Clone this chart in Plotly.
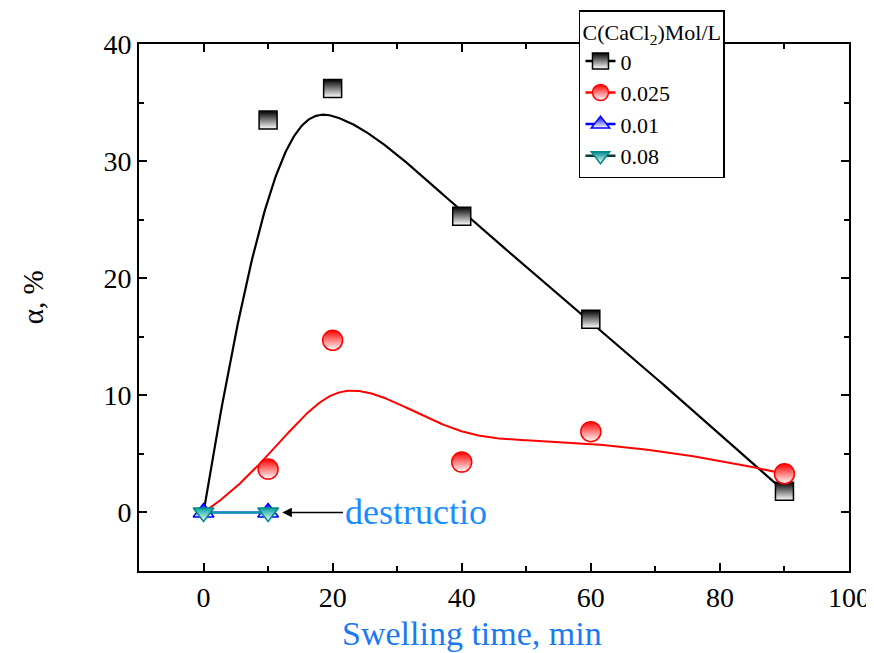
import numpy as np
import plotly.graph_objects as go

# ---- data ----
time_min = [0, 10, 20, 40, 60, 90]
alpha_c0 = [0.0, 33.5, 36.2, 25.3, 16.5, 1.8]
alpha_c025 = [0.0, 3.7, 14.7, 4.3, 6.9, 3.3]
time_short = [0, 10]
alpha_c001 = [0.0, 0.0]
alpha_c008 = [0.0, 0.0]
series_names = ["0", "0.025", "0.01", "0.08"]
x_ticks = [0, 20, 40, 60, 80, 100]
y_ticks = [0, 10, 20, 30, 40]


def bspline(xs, ys, n=300, k=3):
    """Clamped uniform B-spline using data points as control points (Origin style)."""
    P = np.column_stack([xs, ys]).astype(float)
    m = len(P)
    knots = np.concatenate([[0.0] * k, np.linspace(0, 1, m - k + 1), [1.0] * k])
    t = np.linspace(0, 1, n)
    t[-1] = 1 - 1e-12

    def N(i, p, tt):
        if p == 0:
            return np.where((knots[i] <= tt) & (tt < knots[i + 1]), 1.0, 0.0)
        a = 0.0
        d1 = knots[i + p] - knots[i]
        if d1 > 0:
            a = (tt - knots[i]) / d1 * N(i, p - 1, tt)
        b = 0.0
        d2 = knots[i + p + 1] - knots[i + 1]
        if d2 > 0:
            b = (knots[i + p + 1] - tt) / d2 * N(i + 1, p - 1, tt)
        return a + b

    C = np.zeros((n, 2))
    for i in range(m):
        C += N(i, k, t)[:, None] * P[i]
    return C[:, 0], C[:, 1]


FONT = "Liberation Serif"
fig = go.Figure()

c0x, c0y = bspline(time_min, alpha_c0)
c1x, c1y = bspline(time_min, alpha_c025)

fig.add_trace(go.Scatter(x=c0x, y=c0y, mode="lines", line=dict(color="black", width=2.2),
                         showlegend=False, hoverinfo="skip"))
fig.add_trace(go.Scatter(x=c1x, y=c1y, mode="lines", line=dict(color="#FF0000", width=2),
                         showlegend=False, hoverinfo="skip"))

# markers for fitted series (the point at the origin is hidden under the short series)
fig.add_trace(go.Scatter(x=time_min[1:], y=alpha_c0[1:], mode="markers", showlegend=False,
                         marker=dict(symbol="square", size=18, color="black",
                                     gradient=dict(type="vertical", color="white"),
                                     line=dict(color="black", width=1.5))))
fig.add_trace(go.Scatter(x=time_min[1:], y=alpha_c025[1:], mode="markers", showlegend=False,
                         marker=dict(symbol="circle", size=20, color="#FF0000",
                                     gradient=dict(type="vertical", color="white"),
                                     line=dict(color="#FF0000", width=1.5))))

# short series with straight lines
fig.add_trace(go.Scatter(x=time_short, y=alpha_c001, mode="lines+markers", name=series_names[2],
                         showlegend=False,
                         line=dict(color="#0000FF", width=2),
                         marker=dict(symbol="triangle-up", size=18, color="#0000FF",
                                     gradient=dict(type="vertical", color="white"),
                                     line=dict(color="#0000FF", width=1.5))))
fig.add_trace(go.Scatter(x=time_short, y=alpha_c008, mode="lines+markers", name=series_names[3],
                         showlegend=False,
                         line=dict(color="#00A0A0", width=2),
                         marker=dict(symbol="triangle-down", size=18, color="#00A0A0",
                                     gradient=dict(type="vertical", color="white"),
                                     line=dict(color="#008B8B", width=1.5))))

# legend entries
legend_specs = [
    (series_names[0], "black", "black", "square", 17),
    (series_names[1], "#FF0000", "#FF0000", "circle", 18),
    (series_names[2], "#0000FF", "#0000FF", "triangle-up", 17),
    (series_names[3], "#0A3A3A", "#008B8B", "triangle-down", 17),
]
for nm, lcol, mcol, sym, sz in legend_specs:
    fig.add_trace(go.Scatter(x=[None], y=[None], mode="lines+markers", name=nm,
                             line=dict(color=lcol, width=2.5),
                             marker=dict(symbol=sym, size=sz, color=mcol,
                                         gradient=dict(type="vertical", color="white"),
                                         line=dict(color=mcol, width=1.5))))

axis_common = dict(showline=True, linecolor="black", linewidth=2, mirror="ticks",
                   ticks="inside", ticklen=8, tickwidth=2, tickcolor="black",
                   showgrid=False, zeroline=False, automargin=False,
                   tickfont=dict(family=FONT, size=28, color="black"))

fig.update_xaxes(range=[-10, 100], tickvals=x_ticks, ticktext=[str(v) for v in x_ticks],
                 minor=dict(ticks="inside", ticklen=5, tickwidth=2, tickcolor="black", dtick=10, tick0=0),
                 **axis_common)
fig.update_yaxes(range=[-5, 40], tickvals=y_ticks, ticktext=[str(v) for v in y_ticks],
                 minor=dict(ticks="inside", ticklen=5, tickwidth=2, tickcolor="black", dtick=5, tick0=0),
                 **axis_common)

fig.add_annotation(x=12.2, y=0, ax=21.6, ay=0, xref="x", yref="y", axref="x", ayref="y",
                   text="destructio", xanchor="left", yanchor="middle",
                   showarrow=True, arrowhead=2, arrowsize=1.2, arrowwidth=1.6,
                   arrowcolor="black",
                   font=dict(family=FONT, size=36, color="#1A8CFF"))

fig.add_annotation(x=0.469, y=-0.118, xref="paper", yref="paper", xanchor="center", yanchor="middle",
                   text="Swelling time, min", showarrow=False,
                   font=dict(family=FONT, size=34, color="#1A7AF0"))
fig.add_annotation(x=-0.149, y=0.52, xref="paper", yref="paper", xanchor="center", yanchor="middle",
                   text="α, %", textangle=-90, showarrow=False,
                   font=dict(family=FONT, size=29, color="black"))

fig.update_layout(
    width=866, height=645,
    margin=dict(l=131, r=25, t=36, b=82, autoexpand=False),
    plot_bgcolor="white", paper_bgcolor="white",
    showlegend=True,
    legend=dict(x=0.6197, y=1.0645, xanchor="left", yanchor="top",
                bgcolor="white", bordercolor="black", borderwidth=1.5,
                font=dict(family=FONT, size=22, color="black"),
                title=dict(text="C(CaCl<sub>2</sub>)Mol/L", font=dict(family=FONT, size=22, color="black")),
                tracegroupgap=0, itemsizing="trace"),
)

fig.write_html("out.html")
